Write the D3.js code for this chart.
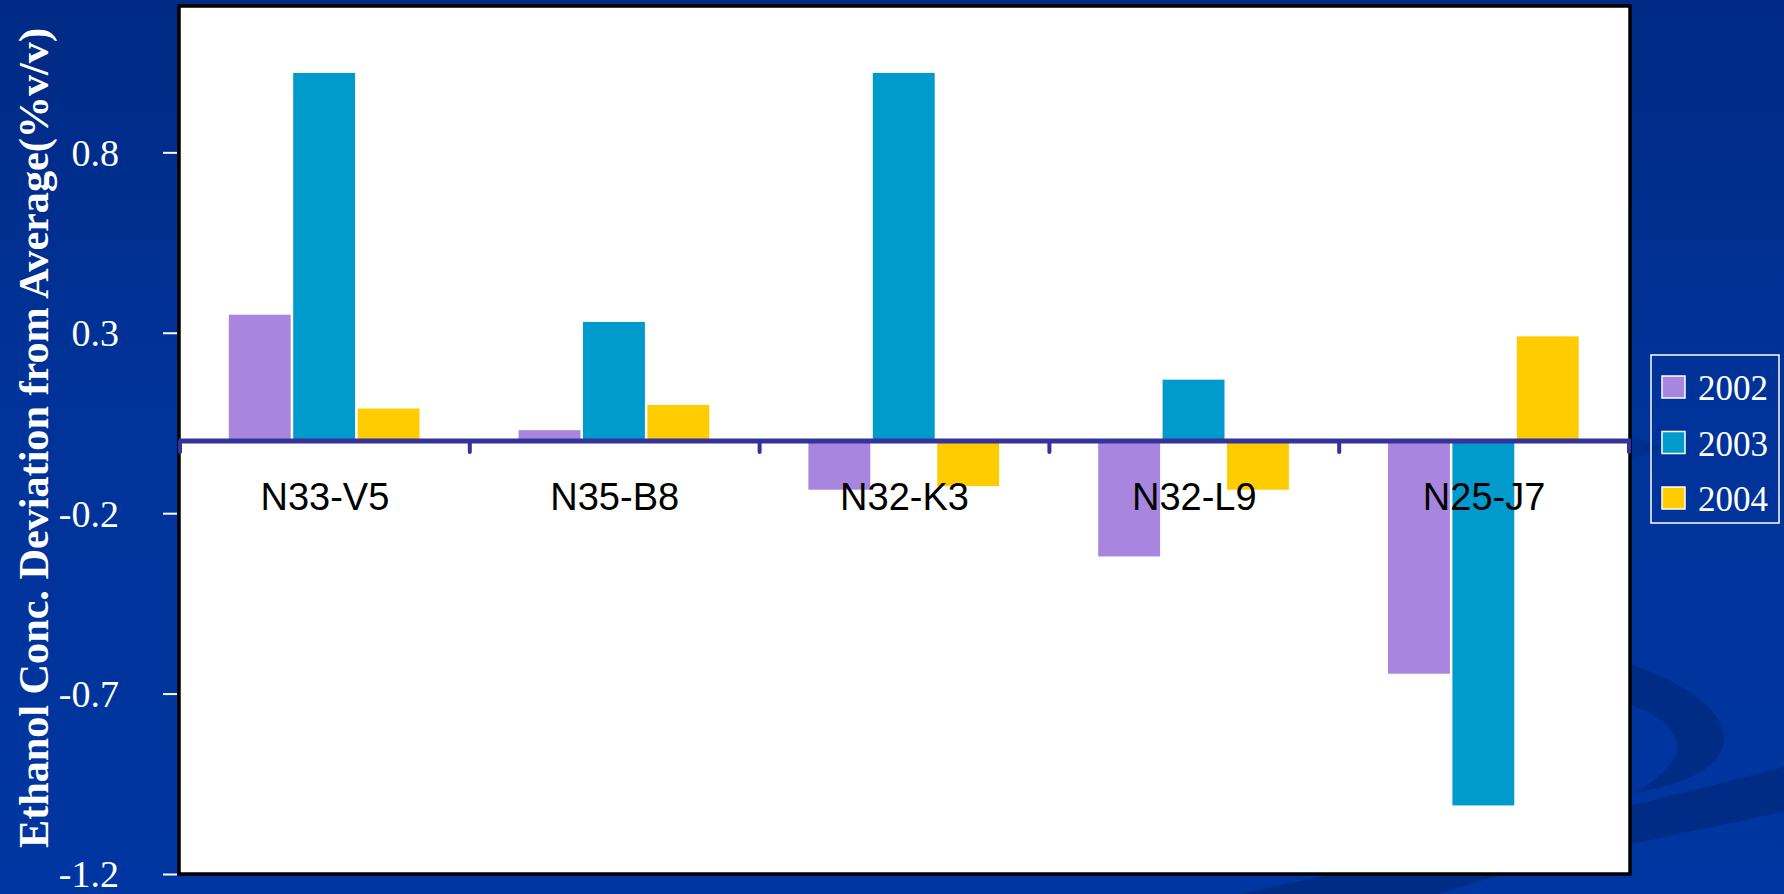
<!DOCTYPE html>
<html>
<head>
<meta charset="utf-8">
<script src="https://cdn.jsdelivr.net/npm/d3@7"></script>
<style>
  html, body { margin: 0; padding: 0; background: #003399; }
  svg { display: block; }
</style>
</head>
<body>
<svg id="chart" width="1784" height="894"></svg>
<script>
// Ethanol concentration deviation from the average, per sample and year
const categories = ["N33-V5", "N35-B8", "N32-K3", "N32-L9", "N25-J7"];
const years = ["2002", "2003", "2004"];
const values2002 = [0.35, 0.03, -0.135, -0.32, -0.645];
const values2003 = [1.02, 0.33, 1.02, 0.17, -1.01];
const values2004 = [0.09, 0.10, -0.125, -0.135, 0.29];
const yTickValues = [-1.2, -0.7, -0.2, 0.3, 0.8];
const yDomain = [-1.2, 1.2];
const yearColors = ["#A886DF", "#009ACD", "#FFCC00"];
const yTitle = "Ethanol Conc. Deviation from Average(%v/v)";

const seriesValues = [values2002, values2003, values2004];
const rows = categories.map((c, i) => ({
  category: c,
  bars: years.map((yr, j) => ({ year: yr, value: seriesValues[j][i], color: yearColors[j] }))
}));

const W = 1784, H = 894;
const plot = { left: 179, right: 1630, top: 6, bottom: 874 };

const svg = d3.select("#chart");

// slide background
const defs = svg.append("defs");
const bg = defs.append("linearGradient").attr("id", "bg").attr("x1", 0).attr("y1", 0).attr("x2", 0).attr("y2", 1);
bg.append("stop").attr("offset", 0).attr("stop-color", "#002A84");
bg.append("stop").attr("offset", 0.45).attr("stop-color", "#003399");
bg.append("stop").attr("offset", 1).attr("stop-color", "#0036A1");
svg.append("rect").attr("width", W).attr("height", H).attr("fill", "url(#bg)");

// decorative swooshes in the lower right corner
const swoosh = svg.append("g").attr("fill", "#002C86");
swoosh.append("path")
  .attr("d", "M1560,650 C1650,660 1725,700 1724,740 C1722,770 1680,785 1633,793 C1672,772 1682,752 1676,740 C1668,718 1640,700 1560,690 Z");
swoosh.append("path")
  .attr("d", "M1240,894 C1400,860 1560,825 1784,767 L1784,812 C1600,850 1500,872 1440,894 Z");
swoosh.append("path").attr("opacity", 0.6)
  .attr("d", "M1600,438 C1625,436 1645,440 1660,448 C1645,456 1625,462 1600,464 Z");

const x0 = d3.scaleBand().domain(categories).range([180, 1629]).padding(0);
const x1 = d3.scaleBand().domain(years).range([0, x0.bandwidth()]).paddingInner(0).paddingOuter(0.75);
const y = d3.scaleLinear().domain(yDomain).range([plot.bottom, 8]);

// plot area
svg.append("rect")
  .attr("x", plot.left).attr("y", plot.top)
  .attr("width", plot.right - plot.left).attr("height", plot.bottom - plot.top)
  .attr("fill", "#FFFFFF").attr("stroke", "#000000").attr("stroke-width", 3.5);

// bars
const groups = svg.append("g").selectAll("g").data(rows).join("g")
  .attr("transform", d => `translate(${x0(d.category)},0)`);
groups.selectAll("rect").data(d => d.bars).join("rect")
  .attr("x", d => x1(d.year) + 0.5)
  .attr("width", x1.bandwidth() - 2.5)
  .attr("y", d => Math.min(y(d.value), y(0)))
  .attr("height", d => Math.abs(y(d.value) - y(0)))
  .attr("fill", d => d.color);

// category axis on the zero line
const xAxis = svg.append("g");
xAxis.append("line")
  .attr("x1", plot.left).attr("x2", plot.right + 1)
  .attr("y1", y(0)).attr("y2", y(0))
  .attr("stroke", "#333399").attr("stroke-width", 5);
const boundaries = categories.map(c => x0(c)).concat([x0(categories[categories.length - 1]) + x0.bandwidth()]);
xAxis.selectAll("line.tick").data(boundaries).join("line")
  .attr("class", "tick")
  .attr("x1", d => d).attr("x2", d => d)
  .attr("y1", y(0)).attr("y2", y(0) + 11)
  .attr("stroke", "#333399").attr("stroke-width", 4).attr("stroke-linecap", "round");
xAxis.selectAll("text").data(categories).join("text")
  .attr("x", d => x0(d) + x0.bandwidth() / 2)
  .attr("y", 510)
  .attr("text-anchor", "middle")
  .attr("font-family", "'Liberation Sans', Arial, sans-serif")
  .attr("font-size", 38)
  .attr("fill", "#000000")
  .text(d => d);

// value axis
const yAxis = svg.append("g")
  .attr("transform", `translate(${plot.left - 2},0)`)
  .call(d3.axisLeft(y).tickValues(yTickValues).tickSize(14).tickPadding(44).tickFormat(d => String(d)));
yAxis.select(".domain").remove();
yAxis.selectAll(".tick line").attr("stroke", "#FFFFFF").attr("stroke-width", 2);
yAxis.selectAll(".tick text")
  .attr("fill", "#FFFFFF")
  .attr("font-family", "'Liberation Serif', 'Times New Roman', serif")
  .attr("font-size", 38)
  .attr("dy", "0.34em");

// value axis title
svg.append("text")
  .attr("transform", `translate(48,${(28 + 848) / 2}) rotate(-90)`)
  .attr("text-anchor", "middle")
  .attr("font-family", "'Liberation Serif', 'Times New Roman', serif")
  .attr("font-weight", "bold")
  .attr("font-size", 42)
  .attr("fill", "#FFFFFF")
  .attr("textLength", 820)
  .attr("lengthAdjust", "spacingAndGlyphs")
  .text(yTitle);

// legend
const legend = svg.append("g");
legend.append("rect")
  .attr("x", 1651).attr("y", 355).attr("width", 128).attr("height", 168)
  .attr("fill", "none").attr("stroke", "#FFFFFF").attr("stroke-width", 1.5);
const items = legend.selectAll("g").data(years).join("g")
  .attr("transform", (d, i) => `translate(1662,${376 + i * 55.5})`);
items.append("rect")
  .attr("width", 23).attr("height", 22)
  .attr("fill", (d, i) => yearColors[i])
  .attr("stroke", "#FFFFFF").attr("stroke-width", 1.5);
items.append("text")
  .attr("x", 36).attr("y", 24)
  .attr("font-family", "'Liberation Serif', 'Times New Roman', serif")
  .attr("font-size", 35)
  .attr("fill", "#FFFFFF")
  .text(d => d);
</script>
</body>
</html>
